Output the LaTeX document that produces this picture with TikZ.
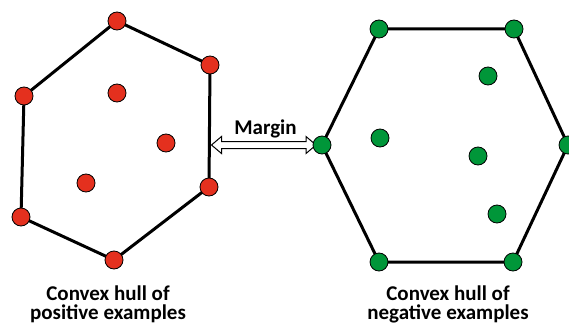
\documentclass[tikz,border=0pt]{standalone}
\usepackage{fontspec}
\setmainfont{Carlito}
\usetikzlibrary{calc}
\definecolor{redpt}{RGB}{228,48,30}
\definecolor{greenpt}{RGB}{0,150,57}
\tikzset{
  hull/.style={line width=3pt, line join=round},
  posdot/.style={circle, draw=black, line width=0.8pt, fill=redpt, minimum size=18pt, inner sep=0pt},
  negdot/.style={circle, draw=black, line width=0.8pt, fill=greenpt, minimum size=18pt, inner sep=0pt},
  lbl/.style={font=\bfseries\fontsize{21}{19}\selectfont, anchor=base, inner sep=0pt, text=black, align=center},
  marginarrow/.style={draw=black, fill=white, line width=1pt, line join=miter},
}
\begin{document}
\begin{tikzpicture}[x=1pt,y=-1pt]
\useasboundingbox (0,0) rectangle (569,326);
% positive hull
\coordinate (p1) at (117,21);
\coordinate (p2) at (210,65);
\coordinate (p3) at (209,187);
\coordinate (p4) at (114,260);
\coordinate (p5) at (21,217);
\coordinate (p6) at (24,96);
\draw[hull] (p1) -- (p2) -- (p3) -- (p4) -- (p5) -- (p6) -- cycle;
% negative hull
\coordinate (n1) at (379,29);
\coordinate (n2) at (514,29);
\coordinate (n3) at (568,145);
\coordinate (n4) at (513,262);
\coordinate (n5) at (379,262);
\coordinate (n6) at (322,145);
\draw[hull] (n1) -- (n2) -- (n3) -- (n4) -- (n5) -- (n6) -- cycle;
% margin arrow (hollow double-headed)
\coordinate (ma) at (211.5,145);
\coordinate (mb) at (316,145);
\draw[marginarrow] (ma) -- ($(ma)+(10,-8.5)$) -- ($(ma)+(10,-3.5)$) -- ($(mb)+(-10,-3.5)$)
  -- ($(mb)+(-10,-8.5)$) -- (mb) -- ($(mb)+(-10,8.5)$) -- ($(mb)+(-10,3.5)$)
  -- ($(ma)+(10,3.5)$) -- ($(ma)+(10,8.5)$) -- cycle;
\node[lbl] (mlabel) at (265.5,134) {Margin};
% points
\foreach \p in {p1,p2,p3,p4,p5,p6} \node[posdot] at (\p) {};
\node[posdot] (q1) at (117,93) {};
\node[posdot] (q2) at (166,143) {};
\node[posdot] (q3) at (86,183) {};
\foreach \p in {n1,n2,n3,n4,n5,n6} \node[negdot] at (\p) {};
\node[negdot] (m1) at (488,76) {};
\node[negdot] (m2) at (380,138) {};
\node[negdot] (m3) at (478,156) {};
\node[negdot] (m4) at (497,214) {};
% labels
\node[lbl] (lpos) at (108,319.5) {Convex hull of\\positive examples};
\node[lbl] (lneg) at (448,319.5) {Convex hull of\\negative examples};
\end{tikzpicture}
\end{document}
